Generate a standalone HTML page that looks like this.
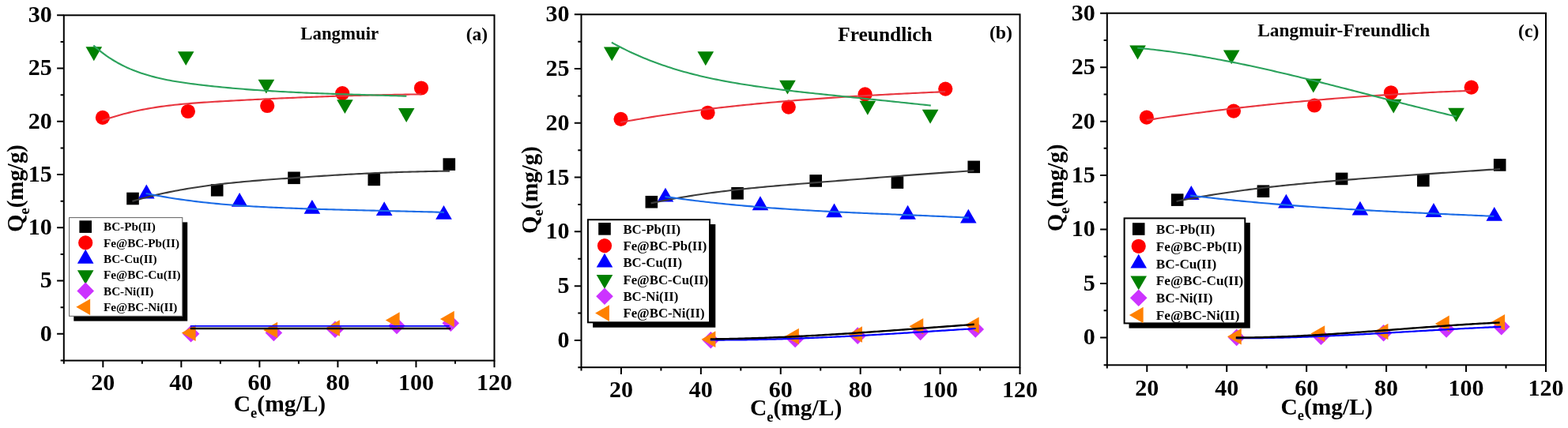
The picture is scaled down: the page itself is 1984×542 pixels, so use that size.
<!DOCTYPE html>
<html><head><meta charset="utf-8"><title>Isotherm fits</title>
<style>html,body{margin:0;padding:0;background:#fff;}svg{display:block;}text{font-family:'Liberation Serif', 'Times New Roman', serif;font-weight:bold;fill:#000;}</style>
</head><body>
<svg width="1984" height="542" viewBox="0 0 1984 542">
<rect width="1984" height="542" fill="#fff"/>
<rect x="160.20" y="243.70" width="15.60" height="15.60" fill="#000000"/>
<rect x="266.90" y="233.00" width="15.60" height="15.60" fill="#000000"/>
<rect x="364.20" y="217.50" width="15.60" height="15.60" fill="#000000"/>
<rect x="465.50" y="219.60" width="15.60" height="15.60" fill="#000000"/>
<rect x="560.50" y="200.30" width="15.60" height="15.60" fill="#000000"/>
<circle cx="129.90" cy="148.90" r="9.10" fill="#FF0000"/>
<circle cx="237.90" cy="141.00" r="9.10" fill="#FF0000"/>
<circle cx="338.20" cy="134.00" r="9.10" fill="#FF0000"/>
<circle cx="433.20" cy="118.10" r="9.10" fill="#FF0000"/>
<circle cx="533.00" cy="111.50" r="9.10" fill="#FF0000"/>
<path d="M185.30 233.61L195.60 251.45L175.00 251.45Z" fill="#0000FF"/>
<path d="M303.10 244.01L313.40 261.85L292.80 261.85Z" fill="#0000FF"/>
<path d="M394.90 252.91L405.20 270.75L384.60 270.75Z" fill="#0000FF"/>
<path d="M486.20 255.21L496.50 273.05L475.90 273.05Z" fill="#0000FF"/>
<path d="M561.50 260.01L571.80 277.85L551.20 277.85Z" fill="#0000FF"/>
<path d="M118.80 77.19L129.10 59.35L108.50 59.35Z" fill="#008000"/>
<path d="M235.20 82.99L245.50 65.15L224.90 65.15Z" fill="#008000"/>
<path d="M336.90 118.59L347.20 100.75L326.60 100.75Z" fill="#008000"/>
<path d="M436.40 144.09L446.70 126.25L426.10 126.25Z" fill="#008000"/>
<path d="M514.20 154.89L524.50 137.05L503.90 137.05Z" fill="#008000"/>
<path d="M241.60 411.90L252.40 422.70L241.60 433.50L230.80 422.70Z" fill="#CC33FF"/>
<path d="M346.40 410.70L357.20 421.50L346.40 432.30L335.60 421.50Z" fill="#CC33FF"/>
<path d="M424.00 406.40L434.80 417.20L424.00 428.00L413.20 417.20Z" fill="#CC33FF"/>
<path d="M502.00 401.70L512.80 412.50L502.00 423.30L491.20 412.50Z" fill="#CC33FF"/>
<path d="M570.30 398.40L581.10 409.20L570.30 420.00L559.50 409.20Z" fill="#CC33FF"/>
<path d="M229.81 421.60L247.65 411.30L247.65 431.90Z" fill="#FF8000"/>
<path d="M333.31 418.00L351.15 407.70L351.15 428.30Z" fill="#FF8000"/>
<path d="M412.01 415.50L429.85 405.20L429.85 425.80Z" fill="#FF8000"/>
<path d="M487.81 405.50L505.65 395.20L505.65 415.80Z" fill="#FF8000"/>
<path d="M556.91 404.00L574.75 393.70L574.75 414.30Z" fill="#FF8000"/>
<path d="M167.40 254.87 L170.77 253.88 L174.15 252.92 L177.52 251.98 L180.90 251.07 L184.27 250.17 L187.65 249.31 L191.02 248.46 L194.40 247.64 L197.77 246.84 L201.15 246.06 L204.52 245.30 L207.90 244.57 L211.27 243.85 L214.65 243.15 L218.02 242.48 L221.40 241.82 L224.77 241.18 L228.15 240.56 L231.52 239.96 L234.90 239.37 L238.27 238.80 L241.65 238.25 L245.02 237.72 L248.39 237.20 L251.77 236.69 L255.14 236.20 L258.52 235.73 L261.89 235.27 L265.27 234.82 L268.64 234.39 L272.02 233.96 L275.39 233.56 L278.77 233.16 L282.14 232.77 L285.52 232.40 L288.89 232.03 L292.27 231.68 L295.64 231.34 L299.02 231.00 L302.39 230.67 L305.77 230.36 L309.14 230.05 L312.52 229.75 L315.89 229.45 L319.27 229.16 L322.64 228.88 L326.02 228.61 L329.39 228.34 L332.76 228.07 L336.14 227.81 L339.51 227.56 L342.89 227.30 L346.26 227.05 L349.64 226.81 L353.01 226.57 L356.39 226.32 L359.76 226.08 L363.14 225.85 L366.51 225.61 L369.89 225.37 L373.26 225.14 L376.64 224.90 L380.01 224.67 L383.39 224.44 L386.76 224.21 L390.14 223.98 L393.51 223.75 L396.89 223.53 L400.26 223.30 L403.64 223.08 L407.01 222.86 L410.38 222.65 L413.76 222.43 L417.13 222.22 L420.51 222.01 L423.88 221.81 L427.26 221.60 L430.63 221.40 L434.01 221.21 L437.38 221.01 L440.76 220.82 L444.13 220.64 L447.51 220.45 L450.88 220.27 L454.26 220.10 L457.63 219.93 L461.01 219.76 L464.38 219.60 L467.76 219.44 L471.13 219.28 L474.51 219.13 L477.88 218.99 L481.26 218.85 L484.63 218.71 L488.01 218.58 L491.38 218.45 L494.75 218.33 L498.13 218.22 L501.50 218.10 L504.88 217.99 L508.25 217.89 L511.63 217.79 L515.00 217.69 L518.38 217.60 L521.75 217.51 L525.13 217.43 L528.50 217.35 L531.88 217.27 L535.25 217.19 L538.63 217.12 L542.00 217.05 L545.38 216.99 L548.75 216.92 L552.13 216.86 L555.50 216.80 L558.88 216.75 L562.25 216.70 L565.63 216.65 L569.00 216.60" fill="none" stroke="#3C3C3C" stroke-width="2.1" stroke-linejoin="round"/>
<path d="M129.40 152.90 L132.79 151.68 L136.18 150.50 L139.58 149.37 L142.97 148.29 L146.36 147.24 L149.75 146.24 L153.15 145.27 L156.54 144.35 L159.93 143.46 L163.32 142.61 L166.72 141.79 L170.11 141.01 L173.50 140.27 L176.89 139.55 L180.29 138.87 L183.68 138.22 L187.07 137.60 L190.46 137.01 L193.86 136.44 L197.25 135.91 L200.64 135.40 L204.03 134.91 L207.43 134.45 L210.82 134.00 L214.21 133.59 L217.60 133.19 L221.00 132.81 L224.39 132.45 L227.78 132.11 L231.17 131.78 L234.57 131.47 L237.96 131.18 L241.35 130.90 L244.74 130.63 L248.14 130.37 L251.53 130.13 L254.92 129.89 L258.31 129.66 L261.71 129.44 L265.10 129.23 L268.49 129.02 L271.88 128.82 L275.27 128.62 L278.67 128.42 L282.06 128.23 L285.45 128.03 L288.84 127.84 L292.24 127.65 L295.63 127.47 L299.02 127.28 L302.41 127.10 L305.81 126.91 L309.20 126.73 L312.59 126.56 L315.98 126.38 L319.38 126.21 L322.77 126.03 L326.16 125.86 L329.55 125.70 L332.95 125.53 L336.34 125.36 L339.73 125.20 L343.12 125.04 L346.52 124.88 L349.91 124.73 L353.30 124.57 L356.69 124.42 L360.09 124.27 L363.48 124.12 L366.87 123.97 L370.26 123.83 L373.66 123.69 L377.05 123.54 L380.44 123.41 L383.83 123.27 L387.23 123.13 L390.62 123.00 L394.01 122.87 L397.40 122.74 L400.79 122.62 L404.19 122.49 L407.58 122.37 L410.97 122.25 L414.36 122.13 L417.76 122.01 L421.15 121.90 L424.54 121.79 L427.93 121.68 L431.33 121.57 L434.72 121.47 L438.11 121.36 L441.50 121.26 L444.90 121.16 L448.29 121.06 L451.68 120.97 L455.07 120.88 L458.47 120.79 L461.86 120.70 L465.25 120.61 L468.64 120.53 L472.04 120.45 L475.43 120.37 L478.82 120.29 L482.21 120.21 L485.61 120.14 L489.00 120.07 L492.39 120.00 L495.78 119.93 L499.18 119.87 L502.57 119.81 L505.96 119.75 L509.35 119.69 L512.75 119.63 L516.14 119.58 L519.53 119.53 L522.92 119.48 L526.32 119.44 L529.71 119.39 L533.10 119.35" fill="none" stroke="#E8363F" stroke-width="2.1" stroke-linejoin="round"/>
<path d="M184.60 244.95 L187.77 245.59 L190.94 246.22 L194.11 246.83 L197.28 247.42 L200.45 248.00 L203.62 248.57 L206.79 249.12 L209.96 249.66 L213.14 250.18 L216.31 250.69 L219.48 251.19 L222.65 251.68 L225.82 252.15 L228.99 252.61 L232.16 253.06 L235.33 253.49 L238.50 253.91 L241.67 254.33 L244.84 254.73 L248.01 255.11 L251.18 255.49 L254.35 255.86 L257.52 256.22 L260.69 256.56 L263.86 256.90 L267.04 257.22 L270.21 257.54 L273.38 257.85 L276.55 258.14 L279.72 258.43 L282.89 258.71 L286.06 258.98 L289.23 259.24 L292.40 259.50 L295.57 259.74 L298.74 259.98 L301.91 260.21 L305.08 260.44 L308.25 260.65 L311.42 260.86 L314.59 261.06 L317.76 261.26 L320.94 261.45 L324.11 261.63 L327.28 261.81 L330.45 261.98 L333.62 262.15 L336.79 262.31 L339.96 262.46 L343.13 262.61 L346.30 262.76 L349.47 262.90 L352.64 263.04 L355.81 263.17 L358.98 263.30 L362.15 263.43 L365.32 263.55 L368.49 263.67 L371.66 263.79 L374.84 263.91 L378.01 264.02 L381.18 264.13 L384.35 264.24 L387.52 264.34 L390.69 264.45 L393.86 264.55 L397.03 264.65 L400.20 264.75 L403.37 264.84 L406.54 264.94 L409.71 265.03 L412.88 265.12 L416.05 265.21 L419.22 265.30 L422.39 265.39 L425.56 265.48 L428.74 265.56 L431.91 265.65 L435.08 265.73 L438.25 265.81 L441.42 265.89 L444.59 265.97 L447.76 266.05 L450.93 266.13 L454.10 266.21 L457.27 266.28 L460.44 266.36 L463.61 266.44 L466.78 266.51 L469.95 266.59 L473.12 266.66 L476.29 266.74 L479.46 266.81 L482.64 266.88 L485.81 266.96 L488.98 267.03 L492.15 267.11 L495.32 267.18 L498.49 267.25 L501.66 267.33 L504.83 267.40 L508.00 267.48 L511.17 267.55 L514.34 267.63 L517.51 267.70 L520.68 267.78 L523.85 267.86 L527.02 267.94 L530.19 268.01 L533.36 268.09 L536.54 268.18 L539.71 268.26 L542.88 268.34 L546.05 268.42 L549.22 268.51 L552.39 268.59 L555.56 268.68 L558.73 268.77 L561.90 268.86" fill="none" stroke="#1A6BE6" stroke-width="2.1" stroke-linejoin="round"/>
<path d="M118.30 57.43 L121.63 60.38 L124.96 63.19 L128.29 65.86 L131.61 68.39 L134.94 70.79 L138.27 73.07 L141.60 75.23 L144.93 77.27 L148.26 79.21 L151.59 81.03 L154.91 82.76 L158.24 84.39 L161.57 85.93 L164.90 87.39 L168.23 88.76 L171.56 90.06 L174.89 91.29 L178.21 92.45 L181.54 93.54 L184.87 94.59 L188.20 95.57 L191.53 96.51 L194.86 97.39 L198.19 98.23 L201.51 99.03 L204.84 99.78 L208.17 100.50 L211.50 101.17 L214.83 101.82 L218.16 102.42 L221.49 103.00 L224.81 103.55 L228.14 104.07 L231.47 104.57 L234.80 105.05 L238.13 105.51 L241.46 105.95 L244.79 106.38 L248.11 106.79 L251.44 107.20 L254.77 107.59 L258.10 107.98 L261.43 108.36 L264.76 108.73 L268.09 109.09 L271.41 109.44 L274.74 109.79 L278.07 110.12 L281.40 110.45 L284.73 110.77 L288.06 111.09 L291.39 111.39 L294.71 111.69 L298.04 111.98 L301.37 112.27 L304.70 112.54 L308.03 112.81 L311.36 113.08 L314.69 113.33 L318.01 113.58 L321.34 113.83 L324.67 114.06 L328.00 114.30 L331.33 114.52 L334.66 114.74 L337.99 114.95 L341.31 115.16 L344.64 115.37 L347.97 115.56 L351.30 115.76 L354.63 115.94 L357.96 116.13 L361.29 116.31 L364.61 116.48 L367.94 116.65 L371.27 116.81 L374.60 116.97 L377.93 117.13 L381.26 117.28 L384.59 117.43 L387.91 117.58 L391.24 117.72 L394.57 117.86 L397.90 117.99 L401.23 118.13 L404.56 118.25 L407.89 118.38 L411.21 118.50 L414.54 118.62 L417.87 118.74 L421.20 118.86 L424.53 118.97 L427.86 119.09 L431.19 119.20 L434.51 119.30 L437.84 119.41 L441.17 119.52 L444.50 119.62 L447.83 119.72 L451.16 119.82 L454.49 119.92 L457.81 120.02 L461.14 120.12 L464.47 120.22 L467.80 120.32 L471.13 120.42 L474.46 120.51 L477.79 120.61 L481.11 120.71 L484.44 120.81 L487.77 120.90 L491.10 121.00 L494.43 121.10 L497.76 121.20 L501.09 121.30 L504.41 121.41 L507.74 121.51 L511.07 121.61 L514.40 121.72" fill="none" stroke="#2BA25C" stroke-width="2.1" stroke-linejoin="round"/>
<path d="M240.80 412.80 L568.60 412.80" fill="none" stroke="#0000FF" stroke-width="1.8" stroke-linejoin="round"/>
<path d="M240.80 416.00 L570.20 416.00" fill="none" stroke="#000000" stroke-width="2.4" stroke-linejoin="round"/>
<rect x="80.80" y="19.30" width="544.70" height="437.30" fill="none" stroke="#000" stroke-width="2"/>
<path d="M76.60 456.60H80.80 M72.10 422.80H80.80 M76.60 389.18H80.80 M72.10 355.55H80.80 M76.60 321.93H80.80 M72.10 288.30H80.80 M76.60 254.68H80.80 M72.10 221.05H80.80 M76.60 187.43H80.80 M72.10 153.80H80.80 M76.60 120.18H80.80 M72.10 86.55H80.80 M76.60 52.93H80.80 M72.10 19.30H80.80 M80.80 456.60V460.80 M130.32 456.60V465.30 M179.84 456.60V460.80 M229.35 456.60V465.30 M278.87 456.60V460.80 M328.39 456.60V465.30 M377.91 456.60V460.80 M427.43 456.60V465.30 M476.95 456.60V460.80 M526.46 456.60V465.30 M575.98 456.60V460.80 M625.50 456.60V465.30" stroke="#000" stroke-width="2" fill="none"/>
<text x="65.80" y="431.70" text-anchor="end" font-size="30.0">0</text>
<text x="65.80" y="364.45" text-anchor="end" font-size="30.0">5</text>
<text x="65.80" y="297.20" text-anchor="end" font-size="30.0">10</text>
<text x="65.80" y="229.95" text-anchor="end" font-size="30.0">15</text>
<text x="65.80" y="162.70" text-anchor="end" font-size="30.0">20</text>
<text x="65.80" y="95.45" text-anchor="end" font-size="30.0">25</text>
<text x="65.80" y="28.20" text-anchor="end" font-size="30.0">30</text>
<text x="130.32" y="493.50" text-anchor="middle" font-size="30.0">20</text>
<text x="229.35" y="493.50" text-anchor="middle" font-size="30.0">40</text>
<text x="328.39" y="493.50" text-anchor="middle" font-size="30.0">60</text>
<text x="427.43" y="493.50" text-anchor="middle" font-size="30.0">80</text>
<text x="526.46" y="493.50" text-anchor="middle" font-size="30.0">100</text>
<text x="625.50" y="493.50" text-anchor="middle" font-size="30.0">120</text>
<text x="295.80" y="521.30" font-size="29.5">C<tspan font-size="18.5" dy="7.6">e</tspan><tspan dy="-7.6">(mg/L)</tspan></text>
<text transform="translate(19.40 238.50) rotate(-90)" x="0" y="9.8" text-anchor="middle" font-size="28.9">Q<tspan font-size="18.5" dy="7.6">e</tspan><tspan dy="-7.6">(mg/g)</tspan></text>
<text x="380.30" y="49.70" font-size="22.8">Langmuir</text>
<text x="589.70" y="50.60" font-size="23.6">(a)</text>
<rect x="93.30" y="281.40" width="143.90" height="125.20" fill="#000"/>
<rect x="87.60" y="275.60" width="143.20" height="124.70" fill="#fff" stroke="#606060" stroke-width="1.0"/>
<rect x="100.40" y="279.30" width="15.60" height="15.60" fill="#000000"/>
<text x="131.00" y="292.40" font-size="15.2">BC-Pb(II)</text>
<circle cx="108.20" cy="307.43" r="9.10" fill="#FF0000"/>
<text x="131.00" y="312.73" font-size="15.2">Fe@BC-Pb(II)</text>
<path d="M108.20 315.87L118.50 333.71L97.90 333.71Z" fill="#0000FF"/>
<text x="131.00" y="333.06" font-size="15.2">BC-Cu(II)</text>
<path d="M108.20 359.98L118.50 342.14L97.90 342.14Z" fill="#008000"/>
<text x="131.00" y="353.39" font-size="15.2">Fe@BC-Cu(II)</text>
<path d="M108.20 357.62L119.00 368.42L108.20 379.22L97.40 368.42Z" fill="#CC33FF"/>
<text x="131.00" y="373.72" font-size="15.2">BC-Ni(II)</text>
<path d="M96.31 388.75L114.15 378.45L114.15 399.05Z" fill="#FF8000"/>
<text x="131.00" y="394.05" font-size="15.2">Fe@BC-Ni(II)</text>
<rect x="816.55" y="247.94" width="15.60" height="15.60" fill="#000000"/>
<rect x="925.27" y="237.00" width="15.60" height="15.60" fill="#000000"/>
<rect x="1024.41" y="221.15" width="15.60" height="15.60" fill="#000000"/>
<rect x="1127.62" y="223.30" width="15.60" height="15.60" fill="#000000"/>
<rect x="1224.42" y="203.56" width="15.60" height="15.60" fill="#000000"/>
<circle cx="785.53" cy="150.83" r="9.10" fill="#FF0000"/>
<circle cx="895.57" cy="142.75" r="9.10" fill="#FF0000"/>
<circle cx="997.77" cy="135.59" r="9.10" fill="#FF0000"/>
<circle cx="1094.56" cy="119.34" r="9.10" fill="#FF0000"/>
<circle cx="1196.25" cy="112.59" r="9.10" fill="#FF0000"/>
<path d="M841.98 237.71L852.28 255.55L831.68 255.55Z" fill="#0000FF"/>
<path d="M962.00 248.35L972.30 266.19L951.70 266.19Z" fill="#0000FF"/>
<path d="M1055.54 257.45L1065.84 275.29L1045.24 275.29Z" fill="#0000FF"/>
<path d="M1148.57 259.80L1158.87 277.64L1138.27 277.64Z" fill="#0000FF"/>
<path d="M1225.29 264.71L1235.59 282.55L1214.99 282.55Z" fill="#0000FF"/>
<path d="M774.22 77.24L784.52 59.40L763.92 59.40Z" fill="#008000"/>
<path d="M892.82 83.17L903.12 65.33L882.52 65.33Z" fill="#008000"/>
<path d="M996.44 119.57L1006.74 101.73L986.14 101.73Z" fill="#008000"/>
<path d="M1097.82 145.65L1108.12 127.81L1087.52 127.81Z" fill="#008000"/>
<path d="M1177.10 156.69L1187.40 138.85L1166.80 138.85Z" fill="#008000"/>
<path d="M899.34 420.00L910.14 430.80L899.34 441.60L888.54 430.80Z" fill="#CC33FF"/>
<path d="M1006.12 418.77L1016.92 429.57L1006.12 440.37L995.32 429.57Z" fill="#CC33FF"/>
<path d="M1085.19 414.37L1095.99 425.17L1085.19 435.97L1074.39 425.17Z" fill="#CC33FF"/>
<path d="M1164.66 409.57L1175.46 420.37L1164.66 431.17L1153.86 420.37Z" fill="#CC33FF"/>
<path d="M1234.26 406.19L1245.06 416.99L1234.26 427.79L1223.46 416.99Z" fill="#CC33FF"/>
<path d="M887.55 429.67L905.39 419.37L905.39 439.97Z" fill="#FF8000"/>
<path d="M993.01 425.99L1010.85 415.69L1010.85 436.29Z" fill="#FF8000"/>
<path d="M1073.19 423.44L1091.03 413.14L1091.03 433.74Z" fill="#FF8000"/>
<path d="M1150.43 413.21L1168.27 402.91L1168.27 423.51Z" fill="#FF8000"/>
<path d="M1220.83 411.68L1238.67 401.38L1238.67 421.98Z" fill="#FF8000"/>
<path d="M823.60 257.37 L827.04 256.64 L830.47 255.92 L833.91 255.22 L837.34 254.53 L840.78 253.86 L844.22 253.20 L847.65 252.55 L851.09 251.92 L854.53 251.30 L857.96 250.69 L861.40 250.10 L864.83 249.51 L868.27 248.94 L871.71 248.39 L875.14 247.84 L878.58 247.30 L882.01 246.78 L885.45 246.27 L888.89 245.77 L892.32 245.28 L895.76 244.80 L899.19 244.32 L902.63 243.86 L906.07 243.41 L909.50 242.97 L912.94 242.54 L916.38 242.11 L919.81 241.69 L923.25 241.29 L926.68 240.89 L930.12 240.49 L933.56 240.11 L936.99 239.73 L940.43 239.36 L943.86 239.00 L947.30 238.64 L950.74 238.29 L954.17 237.95 L957.61 237.61 L961.05 237.27 L964.48 236.95 L967.92 236.62 L971.35 236.30 L974.79 235.99 L978.23 235.68 L981.66 235.38 L985.10 235.08 L988.53 234.78 L991.97 234.48 L995.41 234.19 L998.84 233.90 L1002.28 233.62 L1005.72 233.33 L1009.15 233.05 L1012.59 232.77 L1016.02 232.49 L1019.46 232.22 L1022.90 231.94 L1026.33 231.67 L1029.77 231.39 L1033.20 231.12 L1036.64 230.85 L1040.08 230.57 L1043.51 230.30 L1046.95 230.02 L1050.38 229.75 L1053.82 229.47 L1057.26 229.20 L1060.69 228.92 L1064.13 228.65 L1067.57 228.37 L1071.00 228.10 L1074.44 227.82 L1077.87 227.55 L1081.31 227.27 L1084.75 227.00 L1088.18 226.72 L1091.62 226.45 L1095.05 226.18 L1098.49 225.90 L1101.93 225.63 L1105.36 225.36 L1108.80 225.09 L1112.24 224.82 L1115.67 224.55 L1119.11 224.28 L1122.54 224.01 L1125.98 223.74 L1129.42 223.47 L1132.85 223.21 L1136.29 222.94 L1139.72 222.68 L1143.16 222.42 L1146.60 222.15 L1150.03 221.89 L1153.47 221.63 L1156.91 221.38 L1160.34 221.12 L1163.78 220.86 L1167.21 220.61 L1170.65 220.36 L1174.09 220.11 L1177.52 219.86 L1180.96 219.61 L1184.39 219.36 L1187.83 219.12 L1191.27 218.88 L1194.70 218.64 L1198.14 218.40 L1201.57 218.16 L1205.01 217.93 L1208.45 217.69 L1211.88 217.46 L1215.32 217.23 L1218.76 217.01 L1222.19 216.78 L1225.63 216.56 L1229.06 216.34 L1232.50 216.12" fill="none" stroke="#3C3C3C" stroke-width="2.1" stroke-linejoin="round"/>
<path d="M785.20 154.91 L788.65 154.29 L792.11 153.67 L795.56 153.05 L799.01 152.45 L802.46 151.85 L805.92 151.26 L809.37 150.68 L812.82 150.10 L816.28 149.53 L819.73 148.97 L823.18 148.41 L826.64 147.86 L830.09 147.32 L833.54 146.78 L836.99 146.25 L840.45 145.73 L843.90 145.21 L847.35 144.70 L850.81 144.20 L854.26 143.70 L857.71 143.21 L861.16 142.72 L864.62 142.25 L868.07 141.77 L871.52 141.31 L874.98 140.84 L878.43 140.39 L881.88 139.94 L885.34 139.50 L888.79 139.06 L892.24 138.63 L895.69 138.20 L899.15 137.78 L902.60 137.36 L906.05 136.95 L909.51 136.55 L912.96 136.15 L916.41 135.76 L919.86 135.37 L923.32 134.98 L926.77 134.60 L930.22 134.23 L933.68 133.86 L937.13 133.50 L940.58 133.14 L944.04 132.79 L947.49 132.44 L950.94 132.09 L954.39 131.75 L957.85 131.42 L961.30 131.09 L964.75 130.76 L968.21 130.44 L971.66 130.12 L975.11 129.81 L978.56 129.50 L982.02 129.19 L985.47 128.89 L988.92 128.60 L992.38 128.31 L995.83 128.02 L999.28 127.73 L1002.74 127.45 L1006.19 127.17 L1009.64 126.90 L1013.09 126.63 L1016.55 126.37 L1020.00 126.10 L1023.45 125.84 L1026.91 125.59 L1030.36 125.34 L1033.81 125.09 L1037.26 124.84 L1040.72 124.60 L1044.17 124.36 L1047.62 124.13 L1051.08 123.89 L1054.53 123.66 L1057.98 123.44 L1061.44 123.21 L1064.89 122.99 L1068.34 122.77 L1071.79 122.56 L1075.25 122.34 L1078.70 122.13 L1082.15 121.92 L1085.61 121.72 L1089.06 121.52 L1092.51 121.31 L1095.96 121.12 L1099.42 120.92 L1102.87 120.73 L1106.32 120.53 L1109.78 120.34 L1113.23 120.16 L1116.68 119.97 L1120.14 119.79 L1123.59 119.61 L1127.04 119.42 L1130.49 119.25 L1133.95 119.07 L1137.40 118.89 L1140.85 118.72 L1144.31 118.55 L1147.76 118.38 L1151.21 118.21 L1154.66 118.04 L1158.12 117.87 L1161.57 117.71 L1165.02 117.55 L1168.48 117.38 L1171.93 117.22 L1175.38 117.06 L1178.84 116.90 L1182.29 116.74 L1185.74 116.58 L1189.19 116.42 L1192.65 116.27 L1196.10 116.11" fill="none" stroke="#E8363F" stroke-width="2.1" stroke-linejoin="round"/>
<path d="M841.50 248.94 L844.73 249.42 L847.96 249.88 L851.19 250.34 L854.42 250.80 L857.65 251.24 L860.88 251.68 L864.11 252.11 L867.34 252.54 L870.57 252.95 L873.80 253.36 L877.03 253.77 L880.26 254.17 L883.49 254.56 L886.72 254.94 L889.95 255.32 L893.18 255.69 L896.41 256.06 L899.64 256.42 L902.87 256.77 L906.11 257.12 L909.34 257.46 L912.57 257.80 L915.80 258.13 L919.03 258.45 L922.26 258.77 L925.49 259.09 L928.72 259.40 L931.95 259.70 L935.18 260.00 L938.41 260.29 L941.64 260.58 L944.87 260.86 L948.10 261.14 L951.33 261.42 L954.56 261.68 L957.79 261.95 L961.02 262.21 L964.25 262.46 L967.48 262.71 L970.71 262.96 L973.94 263.20 L977.17 263.44 L980.40 263.67 L983.63 263.90 L986.86 264.13 L990.09 264.35 L993.32 264.57 L996.55 264.79 L999.78 265.00 L1003.01 265.21 L1006.24 265.41 L1009.47 265.61 L1012.70 265.81 L1015.93 266.00 L1019.16 266.19 L1022.39 266.38 L1025.62 266.57 L1028.85 266.75 L1032.08 266.93 L1035.32 267.11 L1038.55 267.28 L1041.78 267.46 L1045.01 267.62 L1048.24 267.79 L1051.47 267.96 L1054.70 268.12 L1057.93 268.28 L1061.16 268.44 L1064.39 268.59 L1067.62 268.75 L1070.85 268.90 L1074.08 269.05 L1077.31 269.20 L1080.54 269.35 L1083.77 269.50 L1087.00 269.64 L1090.23 269.78 L1093.46 269.93 L1096.69 270.07 L1099.92 270.21 L1103.15 270.35 L1106.38 270.48 L1109.61 270.62 L1112.84 270.76 L1116.07 270.89 L1119.30 271.03 L1122.53 271.16 L1125.76 271.30 L1128.99 271.43 L1132.22 271.56 L1135.45 271.70 L1138.68 271.83 L1141.91 271.96 L1145.14 272.10 L1148.37 272.23 L1151.60 272.36 L1154.83 272.50 L1158.06 272.63 L1161.29 272.77 L1164.53 272.90 L1167.76 273.04 L1170.99 273.17 L1174.22 273.31 L1177.45 273.45 L1180.68 273.59 L1183.91 273.73 L1187.14 273.87 L1190.37 274.01 L1193.60 274.15 L1196.83 274.30 L1200.06 274.44 L1203.29 274.59 L1206.52 274.74 L1209.75 274.89 L1212.98 275.04 L1216.21 275.20 L1219.44 275.35 L1222.67 275.51 L1225.90 275.67" fill="none" stroke="#1A6BE6" stroke-width="2.1" stroke-linejoin="round"/>
<path d="M773.90 53.79 L777.29 55.65 L780.69 57.47 L784.08 59.24 L787.48 60.97 L790.87 62.66 L794.26 64.32 L797.66 65.93 L801.05 67.50 L804.45 69.04 L807.84 70.53 L811.24 71.99 L814.63 73.42 L818.02 74.81 L821.42 76.16 L824.81 77.48 L828.21 78.77 L831.60 80.02 L834.99 81.24 L838.39 82.43 L841.78 83.59 L845.18 84.72 L848.57 85.82 L851.96 86.89 L855.36 87.93 L858.75 88.95 L862.15 89.94 L865.54 90.90 L868.94 91.83 L872.33 92.75 L875.72 93.63 L879.12 94.50 L882.51 95.34 L885.91 96.15 L889.30 96.95 L892.69 97.73 L896.09 98.48 L899.48 99.22 L902.88 99.93 L906.27 100.63 L909.66 101.31 L913.06 101.97 L916.45 102.62 L919.85 103.25 L923.24 103.87 L926.64 104.47 L930.03 105.06 L933.42 105.63 L936.82 106.20 L940.21 106.75 L943.61 107.29 L947.00 107.81 L950.39 108.33 L953.79 108.84 L957.18 109.34 L960.58 109.83 L963.97 110.31 L967.36 110.78 L970.76 111.24 L974.15 111.69 L977.55 112.14 L980.94 112.57 L984.34 113.01 L987.73 113.43 L991.12 113.85 L994.52 114.26 L997.91 114.66 L1001.31 115.06 L1004.70 115.45 L1008.09 115.84 L1011.49 116.22 L1014.88 116.60 L1018.28 116.97 L1021.67 117.34 L1025.06 117.71 L1028.46 118.07 L1031.85 118.43 L1035.25 118.79 L1038.64 119.15 L1042.04 119.50 L1045.43 119.85 L1048.82 120.20 L1052.22 120.55 L1055.61 120.90 L1059.01 121.25 L1062.40 121.60 L1065.79 121.95 L1069.19 122.30 L1072.58 122.64 L1075.98 122.99 L1079.37 123.34 L1082.76 123.69 L1086.16 124.04 L1089.55 124.39 L1092.95 124.74 L1096.34 125.09 L1099.74 125.44 L1103.13 125.79 L1106.52 126.14 L1109.92 126.50 L1113.31 126.85 L1116.71 127.20 L1120.10 127.55 L1123.49 127.91 L1126.89 128.26 L1130.28 128.61 L1133.68 128.97 L1137.07 129.32 L1140.46 129.68 L1143.86 130.03 L1147.25 130.39 L1150.65 130.75 L1154.04 131.10 L1157.44 131.46 L1160.83 131.82 L1164.22 132.18 L1167.62 132.54 L1171.01 132.90 L1174.41 133.26 L1177.80 133.62" fill="none" stroke="#2BA25C" stroke-width="2.1" stroke-linejoin="round"/>
<path d="M898.80 430.50 L901.62 430.52 L904.44 430.52 L907.27 430.53 L910.09 430.53 L912.91 430.53 L915.73 430.53 L918.55 430.52 L921.37 430.51 L924.20 430.49 L927.02 430.47 L929.84 430.45 L932.66 430.43 L935.48 430.40 L938.31 430.37 L941.13 430.33 L943.95 430.29 L946.77 430.25 L949.59 430.21 L952.42 430.16 L955.24 430.11 L958.06 430.06 L960.88 430.00 L963.70 429.94 L966.52 429.88 L969.35 429.82 L972.17 429.75 L974.99 429.68 L977.81 429.61 L980.63 429.53 L983.46 429.45 L986.28 429.37 L989.10 429.29 L991.92 429.20 L994.74 429.12 L997.56 429.02 L1000.39 428.93 L1003.21 428.84 L1006.03 428.74 L1008.85 428.64 L1011.67 428.53 L1014.50 428.43 L1017.32 428.32 L1020.14 428.21 L1022.96 428.10 L1025.78 427.99 L1028.61 427.87 L1031.43 427.75 L1034.25 427.63 L1037.07 427.51 L1039.89 427.39 L1042.71 427.26 L1045.54 427.13 L1048.36 427.00 L1051.18 426.87 L1054.00 426.74 L1056.82 426.60 L1059.65 426.47 L1062.47 426.33 L1065.29 426.19 L1068.11 426.05 L1070.93 425.90 L1073.75 425.76 L1076.58 425.61 L1079.40 425.46 L1082.22 425.31 L1085.04 425.16 L1087.86 425.01 L1090.69 424.86 L1093.51 424.70 L1096.33 424.54 L1099.15 424.39 L1101.97 424.23 L1104.79 424.07 L1107.62 423.91 L1110.44 423.74 L1113.26 423.58 L1116.08 423.42 L1118.90 423.25 L1121.73 423.08 L1124.55 422.92 L1127.37 422.75 L1130.19 422.58 L1133.01 422.41 L1135.84 422.24 L1138.66 422.07 L1141.48 421.90 L1144.30 421.72 L1147.12 421.55 L1149.94 421.37 L1152.77 421.20 L1155.59 421.02 L1158.41 420.85 L1161.23 420.67 L1164.05 420.49 L1166.88 420.32 L1169.70 420.14 L1172.52 419.96 L1175.34 419.78 L1178.16 419.60 L1180.98 419.42 L1183.81 419.25 L1186.63 419.07 L1189.45 418.89 L1192.27 418.71 L1195.09 418.53 L1197.92 418.35 L1200.74 418.17 L1203.56 417.99 L1206.38 417.81 L1209.20 417.63 L1212.03 417.45 L1214.85 417.27 L1217.67 417.09 L1220.49 416.91 L1223.31 416.73 L1226.13 416.55 L1228.96 416.37 L1231.78 416.19 L1234.60 416.02" fill="none" stroke="#0000FF" stroke-width="2.2" stroke-linejoin="round"/>
<path d="M898.80 429.40 L901.61 429.38 L904.41 429.35 L907.22 429.31 L910.02 429.27 L912.83 429.23 L915.64 429.19 L918.44 429.14 L921.25 429.09 L924.05 429.04 L926.86 428.98 L929.66 428.92 L932.47 428.85 L935.28 428.79 L938.08 428.72 L940.89 428.64 L943.69 428.57 L946.50 428.49 L949.31 428.41 L952.11 428.32 L954.92 428.23 L957.72 428.14 L960.53 428.05 L963.34 427.95 L966.14 427.85 L968.95 427.75 L971.75 427.64 L974.56 427.53 L977.36 427.42 L980.17 427.31 L982.98 427.19 L985.78 427.07 L988.59 426.95 L991.39 426.83 L994.20 426.70 L997.01 426.58 L999.81 426.44 L1002.62 426.31 L1005.42 426.18 L1008.23 426.04 L1011.04 425.90 L1013.84 425.76 L1016.65 425.61 L1019.45 425.47 L1022.26 425.32 L1025.06 425.17 L1027.87 425.02 L1030.68 424.86 L1033.48 424.70 L1036.29 424.55 L1039.09 424.39 L1041.90 424.22 L1044.71 424.06 L1047.51 423.89 L1050.32 423.73 L1053.12 423.56 L1055.93 423.39 L1058.74 423.21 L1061.54 423.04 L1064.35 422.87 L1067.15 422.69 L1069.96 422.51 L1072.76 422.33 L1075.57 422.15 L1078.38 421.97 L1081.18 421.78 L1083.99 421.60 L1086.79 421.41 L1089.60 421.22 L1092.41 421.03 L1095.21 420.84 L1098.02 420.65 L1100.82 420.46 L1103.63 420.27 L1106.44 420.07 L1109.24 419.87 L1112.05 419.68 L1114.85 419.48 L1117.66 419.28 L1120.46 419.08 L1123.27 418.88 L1126.08 418.68 L1128.88 418.48 L1131.69 418.28 L1134.49 418.08 L1137.30 417.87 L1140.11 417.67 L1142.91 417.46 L1145.72 417.26 L1148.52 417.05 L1151.33 416.85 L1154.14 416.64 L1156.94 416.43 L1159.75 416.22 L1162.55 416.02 L1165.36 415.81 L1168.16 415.60 L1170.97 415.39 L1173.78 415.18 L1176.58 414.97 L1179.39 414.77 L1182.19 414.56 L1185.00 414.35 L1187.81 414.14 L1190.61 413.93 L1193.42 413.72 L1196.22 413.51 L1199.03 413.30 L1201.84 413.09 L1204.64 412.89 L1207.45 412.68 L1210.25 412.47 L1213.06 412.26 L1215.86 412.06 L1218.67 411.85 L1221.48 411.64 L1224.28 411.44 L1227.09 411.23 L1229.89 411.03 L1232.70 410.82" fill="none" stroke="#000000" stroke-width="2.4" stroke-linejoin="round"/>
<rect x="735.50" y="18.30" width="555.00" height="446.90" fill="none" stroke="#000" stroke-width="2"/>
<path d="M731.30 465.20H735.50 M726.80 430.90H735.50 M731.30 396.52H735.50 M726.80 362.13H735.50 M731.30 327.75H735.50 M726.80 293.37H735.50 M731.30 258.99H735.50 M726.80 224.60H735.50 M731.30 190.22H735.50 M726.80 155.84H735.50 M731.30 121.46H735.50 M726.80 87.07H735.50 M731.30 52.69H735.50 M726.80 18.30H735.50 M735.50 465.20V469.40 M785.95 465.20V473.90 M836.41 465.20V469.40 M886.86 465.20V473.90 M937.32 465.20V469.40 M987.77 465.20V473.90 M1038.23 465.20V469.40 M1088.68 465.20V473.90 M1139.14 465.20V469.40 M1189.59 465.20V473.90 M1240.05 465.20V469.40 M1290.50 465.20V473.90" stroke="#000" stroke-width="2" fill="none"/>
<text x="720.50" y="439.80" text-anchor="end" font-size="30.0">0</text>
<text x="720.50" y="371.03" text-anchor="end" font-size="30.0">5</text>
<text x="720.50" y="302.27" text-anchor="end" font-size="30.0">10</text>
<text x="720.50" y="233.50" text-anchor="end" font-size="30.0">15</text>
<text x="720.50" y="164.74" text-anchor="end" font-size="30.0">20</text>
<text x="720.50" y="95.97" text-anchor="end" font-size="30.0">25</text>
<text x="720.50" y="27.20" text-anchor="end" font-size="30.0">30</text>
<text x="785.95" y="503.20" text-anchor="middle" font-size="30.0">20</text>
<text x="886.86" y="503.20" text-anchor="middle" font-size="30.0">40</text>
<text x="987.77" y="503.20" text-anchor="middle" font-size="30.0">60</text>
<text x="1088.68" y="503.20" text-anchor="middle" font-size="30.0">80</text>
<text x="1189.59" y="503.20" text-anchor="middle" font-size="30.0">100</text>
<text x="1290.50" y="503.20" text-anchor="middle" font-size="30.0">120</text>
<text x="948.90" y="526.00" font-size="29.5">C<tspan font-size="18.5" dy="7.6">e</tspan><tspan dy="-7.6">(mg/L)</tspan></text>
<text transform="translate(670.00 240.60) rotate(-90)" x="0" y="9.8" text-anchor="middle" font-size="28.9">Q<tspan font-size="18.5" dy="7.6">e</tspan><tspan dy="-7.6">(mg/g)</tspan></text>
<text x="1060.20" y="52.20" font-size="25.4">Freundlich</text>
<text x="1251.90" y="49.40" font-size="23.8">(b)</text>
<rect x="750.10" y="284.00" width="155.20" height="130.70" fill="#000"/>
<rect x="743.90" y="278.20" width="154.10" height="130.10" fill="#fff" stroke="#000000" stroke-width="2.0"/>
<rect x="757.20" y="282.04" width="15.60" height="15.60" fill="#000000"/>
<text x="788.40" y="295.70" font-size="16.8">BC-Pb(II)</text>
<circle cx="765.00" cy="311.19" r="9.10" fill="#FF0000"/>
<text x="788.40" y="317.05" font-size="16.8">Fe@BC-Pb(II)</text>
<path d="M765.00 320.65L775.30 338.49L754.70 338.49Z" fill="#0000FF"/>
<text x="788.40" y="338.40" font-size="16.8">BC-Cu(II)</text>
<path d="M765.00 365.79L775.30 347.95L754.70 347.95Z" fill="#008000"/>
<text x="788.40" y="359.75" font-size="16.8">Fe@BC-Cu(II)</text>
<path d="M765.00 364.44L775.80 375.24L765.00 386.04L754.20 375.24Z" fill="#CC33FF"/>
<text x="788.40" y="381.10" font-size="16.8">BC-Ni(II)</text>
<path d="M753.11 396.59L770.95 386.29L770.95 406.89Z" fill="#FF8000"/>
<text x="788.40" y="402.45" font-size="16.8">Fe@BC-Ni(II)</text>
<rect x="1481.88" y="245.31" width="15.60" height="15.60" fill="#000000"/>
<rect x="1590.64" y="234.41" width="15.60" height="15.60" fill="#000000"/>
<rect x="1689.81" y="218.63" width="15.60" height="15.60" fill="#000000"/>
<rect x="1793.07" y="220.77" width="15.60" height="15.60" fill="#000000"/>
<rect x="1889.90" y="201.12" width="15.60" height="15.60" fill="#000000"/>
<circle cx="1450.85" cy="148.65" r="9.10" fill="#FF0000"/>
<circle cx="1560.93" cy="140.61" r="9.10" fill="#FF0000"/>
<circle cx="1663.16" cy="133.48" r="9.10" fill="#FF0000"/>
<circle cx="1759.99" cy="117.30" r="9.10" fill="#FF0000"/>
<circle cx="1861.72" cy="110.58" r="9.10" fill="#FF0000"/>
<path d="M1507.31 235.10L1517.61 252.94L1497.01 252.94Z" fill="#0000FF"/>
<path d="M1627.39 245.69L1637.69 263.53L1617.09 263.53Z" fill="#0000FF"/>
<path d="M1720.95 254.75L1731.25 272.59L1710.65 272.59Z" fill="#0000FF"/>
<path d="M1814.01 257.09L1824.31 274.93L1803.71 274.93Z" fill="#0000FF"/>
<path d="M1890.77 261.98L1901.07 279.82L1880.47 279.82Z" fill="#0000FF"/>
<path d="M1439.53 75.43L1449.83 57.59L1429.23 57.59Z" fill="#008000"/>
<path d="M1558.18 81.34L1568.48 63.50L1547.88 63.50Z" fill="#008000"/>
<path d="M1661.84 117.58L1672.14 99.74L1651.54 99.74Z" fill="#008000"/>
<path d="M1763.25 143.54L1773.55 125.70L1752.95 125.70Z" fill="#008000"/>
<path d="M1842.55 154.54L1852.85 136.70L1832.25 136.70Z" fill="#008000"/>
<path d="M1564.70 416.60L1575.50 427.40L1564.70 438.20L1553.90 427.40Z" fill="#CC33FF"/>
<path d="M1671.52 415.38L1682.32 426.18L1671.52 436.98L1660.72 426.18Z" fill="#CC33FF"/>
<path d="M1750.62 411.00L1761.42 421.80L1750.62 432.60L1739.82 421.80Z" fill="#CC33FF"/>
<path d="M1830.12 406.21L1840.92 417.01L1830.12 427.81L1819.32 417.01Z" fill="#CC33FF"/>
<path d="M1899.74 402.85L1910.54 413.65L1899.74 424.45L1888.94 413.65Z" fill="#CC33FF"/>
<path d="M1552.91 426.28L1570.75 415.98L1570.75 436.58Z" fill="#FF8000"/>
<path d="M1658.40 422.61L1676.24 412.31L1676.24 432.91Z" fill="#FF8000"/>
<path d="M1738.62 420.07L1756.46 409.77L1756.46 430.37Z" fill="#FF8000"/>
<path d="M1815.88 409.89L1833.72 399.59L1833.72 420.19Z" fill="#FF8000"/>
<path d="M1886.31 408.36L1904.15 398.06L1904.15 418.66Z" fill="#FF8000"/>
<path d="M1488.60 254.92 L1492.04 254.23 L1495.48 253.56 L1498.92 252.90 L1502.36 252.25 L1505.81 251.61 L1509.25 250.97 L1512.69 250.35 L1516.13 249.75 L1519.57 249.15 L1523.01 248.56 L1526.45 247.98 L1529.89 247.41 L1533.34 246.85 L1536.78 246.29 L1540.22 245.75 L1543.66 245.22 L1547.10 244.70 L1550.54 244.18 L1553.98 243.67 L1557.42 243.18 L1560.86 242.69 L1564.31 242.20 L1567.75 241.73 L1571.19 241.26 L1574.63 240.81 L1578.07 240.36 L1581.51 239.91 L1584.95 239.48 L1588.39 239.05 L1591.84 238.63 L1595.28 238.21 L1598.72 237.80 L1602.16 237.40 L1605.60 237.01 L1609.04 236.62 L1612.48 236.23 L1615.92 235.86 L1619.36 235.49 L1622.81 235.12 L1626.25 234.76 L1629.69 234.41 L1633.13 234.06 L1636.57 233.71 L1640.01 233.37 L1643.45 233.04 L1646.89 232.71 L1650.34 232.38 L1653.78 232.06 L1657.22 231.74 L1660.66 231.43 L1664.10 231.12 L1667.54 230.81 L1670.98 230.51 L1674.42 230.21 L1677.86 229.91 L1681.31 229.62 L1684.75 229.33 L1688.19 229.04 L1691.63 228.76 L1695.07 228.48 L1698.51 228.20 L1701.95 227.92 L1705.39 227.64 L1708.84 227.37 L1712.28 227.10 L1715.72 226.83 L1719.16 226.56 L1722.60 226.30 L1726.04 226.03 L1729.48 225.77 L1732.92 225.51 L1736.36 225.25 L1739.81 224.99 L1743.25 224.74 L1746.69 224.48 L1750.13 224.23 L1753.57 223.98 L1757.01 223.73 L1760.45 223.48 L1763.89 223.23 L1767.34 222.98 L1770.78 222.74 L1774.22 222.49 L1777.66 222.25 L1781.10 222.01 L1784.54 221.77 L1787.98 221.52 L1791.42 221.28 L1794.86 221.05 L1798.31 220.81 L1801.75 220.57 L1805.19 220.33 L1808.63 220.09 L1812.07 219.86 L1815.51 219.62 L1818.95 219.39 L1822.39 219.15 L1825.84 218.92 L1829.28 218.68 L1832.72 218.45 L1836.16 218.21 L1839.60 217.98 L1843.04 217.74 L1846.48 217.51 L1849.92 217.28 L1853.36 217.04 L1856.81 216.81 L1860.25 216.57 L1863.69 216.34 L1867.13 216.10 L1870.57 215.86 L1874.01 215.63 L1877.45 215.39 L1880.89 215.15 L1884.34 214.91 L1887.78 214.68 L1891.22 214.44 L1894.66 214.20 L1898.10 213.96" fill="none" stroke="#3C3C3C" stroke-width="2.1" stroke-linejoin="round"/>
<path d="M1450.70 152.16 L1454.15 151.63 L1457.60 151.11 L1461.05 150.60 L1464.49 150.08 L1467.94 149.57 L1471.39 149.07 L1474.84 148.57 L1478.29 148.07 L1481.74 147.58 L1485.19 147.09 L1488.64 146.61 L1492.08 146.13 L1495.53 145.65 L1498.98 145.18 L1502.43 144.71 L1505.88 144.24 L1509.33 143.78 L1512.78 143.32 L1516.23 142.87 L1519.67 142.42 L1523.12 141.97 L1526.57 141.53 L1530.02 141.09 L1533.47 140.66 L1536.92 140.23 L1540.37 139.80 L1543.82 139.38 L1547.26 138.96 L1550.71 138.54 L1554.16 138.13 L1557.61 137.72 L1561.06 137.32 L1564.51 136.92 L1567.96 136.52 L1571.41 136.12 L1574.85 135.73 L1578.30 135.35 L1581.75 134.97 L1585.20 134.59 L1588.65 134.21 L1592.10 133.84 L1595.55 133.47 L1599.00 133.10 L1602.44 132.74 L1605.89 132.39 L1609.34 132.03 L1612.79 131.68 L1616.24 131.33 L1619.69 130.99 L1623.14 130.65 L1626.59 130.31 L1630.03 129.98 L1633.48 129.65 L1636.93 129.32 L1640.38 129.00 L1643.83 128.68 L1647.28 128.36 L1650.73 128.05 L1654.18 127.74 L1657.62 127.43 L1661.07 127.13 L1664.52 126.83 L1667.97 126.53 L1671.42 126.24 L1674.87 125.95 L1678.32 125.66 L1681.77 125.38 L1685.21 125.10 L1688.66 124.82 L1692.11 124.55 L1695.56 124.28 L1699.01 124.01 L1702.46 123.75 L1705.91 123.48 L1709.36 123.23 L1712.80 122.97 L1716.25 122.72 L1719.70 122.47 L1723.15 122.23 L1726.60 121.98 L1730.05 121.74 L1733.50 121.51 L1736.95 121.28 L1740.39 121.05 L1743.84 120.82 L1747.29 120.59 L1750.74 120.37 L1754.19 120.16 L1757.64 119.94 L1761.09 119.73 L1764.54 119.52 L1767.98 119.31 L1771.43 119.11 L1774.88 118.91 L1778.33 118.71 L1781.78 118.52 L1785.23 118.33 L1788.68 118.14 L1792.13 117.95 L1795.57 117.77 L1799.02 117.59 L1802.47 117.41 L1805.92 117.24 L1809.37 117.07 L1812.82 116.90 L1816.27 116.73 L1819.72 116.57 L1823.16 116.41 L1826.61 116.25 L1830.06 116.09 L1833.51 115.94 L1836.96 115.79 L1840.41 115.64 L1843.86 115.50 L1847.31 115.36 L1850.75 115.22 L1854.20 115.08 L1857.65 114.95 L1861.10 114.82" fill="none" stroke="#E8363F" stroke-width="2.1" stroke-linejoin="round"/>
<path d="M1506.10 247.52 L1509.33 247.91 L1512.56 248.30 L1515.79 248.69 L1519.01 249.07 L1522.24 249.45 L1525.47 249.82 L1528.70 250.18 L1531.93 250.55 L1535.16 250.91 L1538.39 251.26 L1541.61 251.61 L1544.84 251.96 L1548.07 252.30 L1551.30 252.64 L1554.53 252.98 L1557.76 253.31 L1560.99 253.63 L1564.21 253.96 L1567.44 254.27 L1570.67 254.59 L1573.90 254.90 L1577.13 255.21 L1580.36 255.51 L1583.59 255.81 L1586.81 256.11 L1590.04 256.40 L1593.27 256.69 L1596.50 256.98 L1599.73 257.26 L1602.96 257.54 L1606.19 257.82 L1609.41 258.09 L1612.64 258.36 L1615.87 258.63 L1619.10 258.89 L1622.33 259.15 L1625.56 259.41 L1628.79 259.66 L1632.01 259.91 L1635.24 260.16 L1638.47 260.40 L1641.70 260.65 L1644.93 260.89 L1648.16 261.12 L1651.39 261.36 L1654.61 261.59 L1657.84 261.81 L1661.07 262.04 L1664.30 262.26 L1667.53 262.48 L1670.76 262.70 L1673.99 262.92 L1677.21 263.13 L1680.44 263.34 L1683.67 263.55 L1686.90 263.75 L1690.13 263.96 L1693.36 264.16 L1696.59 264.36 L1699.81 264.56 L1703.04 264.75 L1706.27 264.94 L1709.50 265.13 L1712.73 265.32 L1715.96 265.51 L1719.19 265.69 L1722.41 265.88 L1725.64 266.06 L1728.87 266.24 L1732.10 266.42 L1735.33 266.59 L1738.56 266.77 L1741.79 266.94 L1745.01 267.11 L1748.24 267.28 L1751.47 267.45 L1754.70 267.62 L1757.93 267.78 L1761.16 267.94 L1764.39 268.11 L1767.61 268.27 L1770.84 268.43 L1774.07 268.59 L1777.30 268.75 L1780.53 268.90 L1783.76 269.06 L1786.99 269.21 L1790.21 269.37 L1793.44 269.52 L1796.67 269.67 L1799.90 269.82 L1803.13 269.97 L1806.36 270.12 L1809.59 270.27 L1812.81 270.42 L1816.04 270.56 L1819.27 270.71 L1822.50 270.86 L1825.73 271.00 L1828.96 271.15 L1832.19 271.29 L1835.41 271.43 L1838.64 271.58 L1841.87 271.72 L1845.10 271.86 L1848.33 272.01 L1851.56 272.15 L1854.79 272.29 L1858.01 272.43 L1861.24 272.57 L1864.47 272.72 L1867.70 272.86 L1870.93 273.00 L1874.16 273.14 L1877.39 273.28 L1880.61 273.43 L1883.84 273.57 L1887.07 273.71 L1890.30 273.85" fill="none" stroke="#1A6BE6" stroke-width="2.1" stroke-linejoin="round"/>
<path d="M1439.20 60.75 L1442.59 61.06 L1445.98 61.38 L1449.38 61.72 L1452.77 62.07 L1456.16 62.44 L1459.55 62.81 L1462.95 63.20 L1466.34 63.60 L1469.73 64.01 L1473.12 64.44 L1476.52 64.87 L1479.91 65.32 L1483.30 65.78 L1486.69 66.25 L1490.09 66.73 L1493.48 67.22 L1496.87 67.72 L1500.26 68.24 L1503.66 68.76 L1507.05 69.29 L1510.44 69.84 L1513.83 70.39 L1517.23 70.96 L1520.62 71.53 L1524.01 72.11 L1527.40 72.71 L1530.80 73.31 L1534.19 73.92 L1537.58 74.54 L1540.97 75.17 L1544.37 75.80 L1547.76 76.45 L1551.15 77.10 L1554.54 77.77 L1557.94 78.44 L1561.33 79.11 L1564.72 79.80 L1568.11 80.49 L1571.51 81.19 L1574.90 81.90 L1578.29 82.62 L1581.68 83.34 L1585.07 84.07 L1588.47 84.80 L1591.86 85.54 L1595.25 86.29 L1598.64 87.05 L1602.04 87.81 L1605.43 88.57 L1608.82 89.34 L1612.21 90.12 L1615.61 90.90 L1619.00 91.69 L1622.39 92.48 L1625.78 93.28 L1629.18 94.08 L1632.57 94.89 L1635.96 95.70 L1639.35 96.52 L1642.75 97.34 L1646.14 98.16 L1649.53 98.99 L1652.92 99.82 L1656.32 100.66 L1659.71 101.50 L1663.10 102.34 L1666.49 103.19 L1669.89 104.03 L1673.28 104.88 L1676.67 105.74 L1680.06 106.59 L1683.46 107.45 L1686.85 108.31 L1690.24 109.17 L1693.63 110.04 L1697.03 110.91 L1700.42 111.77 L1703.81 112.64 L1707.20 113.51 L1710.59 114.38 L1713.99 115.26 L1717.38 116.13 L1720.77 117.00 L1724.16 117.88 L1727.56 118.75 L1730.95 119.63 L1734.34 120.50 L1737.73 121.37 L1741.13 122.25 L1744.52 123.12 L1747.91 124.00 L1751.30 124.87 L1754.70 125.74 L1758.09 126.61 L1761.48 127.48 L1764.87 128.35 L1768.27 129.21 L1771.66 130.08 L1775.05 130.94 L1778.44 131.80 L1781.84 132.66 L1785.23 133.51 L1788.62 134.37 L1792.01 135.22 L1795.41 136.07 L1798.80 136.91 L1802.19 137.76 L1805.58 138.59 L1808.98 139.43 L1812.37 140.26 L1815.76 141.09 L1819.15 141.92 L1822.55 142.74 L1825.94 143.55 L1829.33 144.37 L1832.72 145.17 L1836.12 145.98 L1839.51 146.77 L1842.90 147.57" fill="none" stroke="#2BA25C" stroke-width="2.1" stroke-linejoin="round"/>
<path d="M1563.80 428.27 L1566.62 428.28 L1569.44 428.28 L1572.26 428.27 L1575.08 428.27 L1577.90 428.25 L1580.72 428.24 L1583.54 428.22 L1586.35 428.19 L1589.17 428.16 L1591.99 428.13 L1594.81 428.09 L1597.63 428.05 L1600.45 428.01 L1603.27 427.96 L1606.09 427.91 L1608.91 427.86 L1611.73 427.80 L1614.55 427.74 L1617.37 427.68 L1620.19 427.61 L1623.01 427.54 L1625.83 427.46 L1628.64 427.38 L1631.46 427.30 L1634.28 427.22 L1637.10 427.13 L1639.92 427.04 L1642.74 426.95 L1645.56 426.86 L1648.38 426.76 L1651.20 426.66 L1654.02 426.56 L1656.84 426.45 L1659.66 426.34 L1662.48 426.23 L1665.30 426.12 L1668.12 426.00 L1670.93 425.89 L1673.75 425.77 L1676.57 425.64 L1679.39 425.52 L1682.21 425.39 L1685.03 425.26 L1687.85 425.13 L1690.67 425.00 L1693.49 424.87 L1696.31 424.73 L1699.13 424.59 L1701.95 424.45 L1704.77 424.31 L1707.59 424.17 L1710.41 424.03 L1713.22 423.88 L1716.04 423.73 L1718.86 423.59 L1721.68 423.44 L1724.50 423.29 L1727.32 423.13 L1730.14 422.98 L1732.96 422.83 L1735.78 422.67 L1738.60 422.51 L1741.42 422.36 L1744.24 422.20 L1747.06 422.04 L1749.88 421.88 L1752.69 421.72 L1755.51 421.56 L1758.33 421.40 L1761.15 421.24 L1763.97 421.07 L1766.79 420.91 L1769.61 420.75 L1772.43 420.59 L1775.25 420.42 L1778.07 420.26 L1780.89 420.09 L1783.71 419.93 L1786.53 419.77 L1789.35 419.60 L1792.17 419.44 L1794.98 419.27 L1797.80 419.11 L1800.62 418.95 L1803.44 418.78 L1806.26 418.62 L1809.08 418.46 L1811.90 418.30 L1814.72 418.14 L1817.54 417.98 L1820.36 417.82 L1823.18 417.66 L1826.00 417.50 L1828.82 417.34 L1831.64 417.18 L1834.46 417.03 L1837.27 416.87 L1840.09 416.72 L1842.91 416.57 L1845.73 416.42 L1848.55 416.27 L1851.37 416.12 L1854.19 415.97 L1857.01 415.82 L1859.83 415.68 L1862.65 415.53 L1865.47 415.39 L1868.29 415.25 L1871.11 415.11 L1873.93 414.98 L1876.75 414.84 L1879.56 414.71 L1882.38 414.58 L1885.20 414.45 L1888.02 414.32 L1890.84 414.19 L1893.66 414.07 L1896.48 413.95 L1899.30 413.83" fill="none" stroke="#0000FF" stroke-width="2.2" stroke-linejoin="round"/>
<path d="M1563.80 427.56 L1566.61 427.56 L1569.41 427.54 L1572.22 427.52 L1575.02 427.50 L1577.83 427.47 L1580.63 427.43 L1583.44 427.39 L1586.24 427.35 L1589.05 427.30 L1591.85 427.24 L1594.66 427.18 L1597.46 427.12 L1600.27 427.05 L1603.07 426.97 L1605.88 426.89 L1608.68 426.81 L1611.49 426.72 L1614.29 426.62 L1617.10 426.53 L1619.90 426.43 L1622.71 426.32 L1625.51 426.21 L1628.32 426.10 L1631.12 425.98 L1633.93 425.86 L1636.73 425.73 L1639.54 425.60 L1642.34 425.47 L1645.15 425.33 L1647.95 425.19 L1650.76 425.05 L1653.56 424.90 L1656.37 424.75 L1659.17 424.60 L1661.98 424.45 L1664.78 424.29 L1667.59 424.13 L1670.39 423.96 L1673.20 423.79 L1676.00 423.62 L1678.81 423.45 L1681.61 423.28 L1684.42 423.10 L1687.22 422.92 L1690.03 422.74 L1692.83 422.55 L1695.64 422.37 L1698.44 422.18 L1701.25 421.99 L1704.05 421.80 L1706.86 421.60 L1709.66 421.41 L1712.47 421.21 L1715.27 421.01 L1718.08 420.81 L1720.88 420.61 L1723.69 420.41 L1726.49 420.20 L1729.30 420.00 L1732.10 419.79 L1734.91 419.58 L1737.71 419.37 L1740.52 419.16 L1743.32 418.95 L1746.13 418.74 L1748.93 418.53 L1751.74 418.32 L1754.54 418.11 L1757.35 417.90 L1760.15 417.68 L1762.96 417.47 L1765.76 417.26 L1768.57 417.04 L1771.37 416.83 L1774.18 416.62 L1776.98 416.40 L1779.79 416.19 L1782.59 415.98 L1785.40 415.76 L1788.20 415.55 L1791.01 415.34 L1793.81 415.13 L1796.62 414.92 L1799.42 414.71 L1802.23 414.50 L1805.03 414.30 L1807.84 414.09 L1810.64 413.89 L1813.45 413.68 L1816.25 413.48 L1819.06 413.28 L1821.86 413.08 L1824.67 412.88 L1827.47 412.69 L1830.28 412.49 L1833.08 412.30 L1835.89 412.11 L1838.69 411.92 L1841.50 411.73 L1844.30 411.54 L1847.11 411.36 L1849.91 411.18 L1852.72 411.00 L1855.52 410.82 L1858.33 410.65 L1861.13 410.48 L1863.94 410.31 L1866.74 410.14 L1869.55 409.98 L1872.35 409.82 L1875.16 409.66 L1877.96 409.51 L1880.77 409.36 L1883.57 409.21 L1886.38 409.07 L1889.18 408.92 L1891.99 408.79 L1894.79 408.65 L1897.60 408.52" fill="none" stroke="#000000" stroke-width="2.4" stroke-linejoin="round"/>
<rect x="1400.80" y="16.70" width="555.20" height="445.60" fill="none" stroke="#000" stroke-width="2"/>
<path d="M1396.60 462.30H1400.80 M1392.10 427.50H1400.80 M1396.60 393.27H1400.80 M1392.10 359.03H1400.80 M1396.60 324.80H1400.80 M1392.10 290.57H1400.80 M1396.60 256.34H1400.80 M1392.10 222.11H1400.80 M1396.60 187.87H1400.80 M1392.10 153.64H1400.80 M1396.60 119.41H1400.80 M1392.10 85.18H1400.80 M1396.60 50.94H1400.80 M1392.10 16.70H1400.80 M1400.80 462.30V466.50 M1451.27 462.30V471.00 M1501.75 462.30V466.50 M1552.22 462.30V471.00 M1602.69 462.30V466.50 M1653.16 462.30V471.00 M1703.64 462.30V466.50 M1754.11 462.30V471.00 M1804.58 462.30V466.50 M1855.05 462.30V471.00 M1905.53 462.30V466.50 M1956.00 462.30V471.00" stroke="#000" stroke-width="2" fill="none"/>
<text x="1385.80" y="436.40" text-anchor="end" font-size="30.0">0</text>
<text x="1385.80" y="367.93" text-anchor="end" font-size="30.0">5</text>
<text x="1385.80" y="299.47" text-anchor="end" font-size="30.0">10</text>
<text x="1385.80" y="231.01" text-anchor="end" font-size="30.0">15</text>
<text x="1385.80" y="162.54" text-anchor="end" font-size="30.0">20</text>
<text x="1385.80" y="94.08" text-anchor="end" font-size="30.0">25</text>
<text x="1385.80" y="25.60" text-anchor="end" font-size="30.0">30</text>
<text x="1451.27" y="500.70" text-anchor="middle" font-size="30.0">20</text>
<text x="1552.22" y="500.70" text-anchor="middle" font-size="30.0">40</text>
<text x="1653.16" y="500.70" text-anchor="middle" font-size="30.0">60</text>
<text x="1754.11" y="500.70" text-anchor="middle" font-size="30.0">80</text>
<text x="1855.05" y="500.70" text-anchor="middle" font-size="30.0">100</text>
<text x="1956.00" y="500.70" text-anchor="middle" font-size="30.0">120</text>
<text x="1620.40" y="524.60" font-size="29.5">C<tspan font-size="18.5" dy="7.6">e</tspan><tspan dy="-7.6">(mg/L)</tspan></text>
<text transform="translate(1335.30 237.80) rotate(-90)" x="0" y="9.8" text-anchor="middle" font-size="28.9">Q<tspan font-size="18.5" dy="7.6">e</tspan><tspan dy="-7.6">(mg/g)</tspan></text>
<text x="1591.30" y="46.00" font-size="23.35">Langmuir-Freundlich</text>
<text x="1921.10" y="46.60" font-size="23.6">(c)</text>
<rect x="1428.50" y="282.00" width="153.30" height="133.60" fill="#000"/>
<rect x="1422.60" y="276.40" width="152.70" height="133.00" fill="#fff" stroke="#000000" stroke-width="2.0"/>
<rect x="1432.90" y="282.20" width="15.60" height="15.60" fill="#000000"/>
<text x="1462.80" y="296.00" font-size="17.2">BC-Pb(II)</text>
<circle cx="1440.70" cy="311.80" r="9.10" fill="#FF0000"/>
<text x="1462.80" y="317.80" font-size="17.2">Fe@BC-Pb(II)</text>
<path d="M1440.70 321.71L1451.00 339.55L1430.40 339.55Z" fill="#0000FF"/>
<text x="1462.80" y="339.60" font-size="17.2">BC-Cu(II)</text>
<path d="M1440.70 367.30L1451.00 349.46L1430.40 349.46Z" fill="#008000"/>
<text x="1462.80" y="361.40" font-size="17.2">Fe@BC-Cu(II)</text>
<path d="M1440.70 366.40L1451.50 377.20L1440.70 388.00L1429.90 377.20Z" fill="#CC33FF"/>
<text x="1462.80" y="383.20" font-size="17.2">BC-Ni(II)</text>
<path d="M1428.81 399.00L1446.65 388.70L1446.65 409.30Z" fill="#FF8000"/>
<text x="1462.80" y="405.00" font-size="17.2">Fe@BC-Ni(II)</text>
</svg>
</body></html>
